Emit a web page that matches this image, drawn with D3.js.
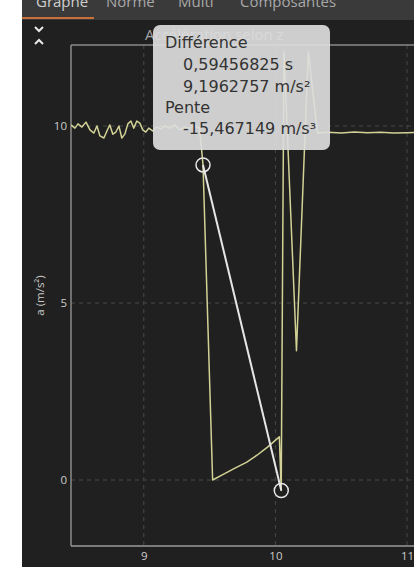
<!DOCTYPE html>
<html>
<head>
<meta charset="utf-8">
<script src="https://cdn.jsdelivr.net/npm/d3@7"></script>
<style>
  html, body { margin: 0; padding: 0; background: #ffffff; }
  svg { display: block; font-family: "Open Sans", "Noto Sans", sans-serif; }
</style>
</head>
<body>
<svg id="chart" width="414" height="567"></svg>
<script>
// Acceleration along z (m/s²) against time (s)
const time = [
  8.447, 8.477, 8.500, 8.530, 8.561, 8.591, 8.621, 8.644, 8.667, 8.697,
  8.720, 8.742, 8.765, 8.788, 8.811, 8.833, 8.856, 8.879, 8.902, 8.924,
  8.947, 8.970, 8.992, 9.015, 9.038, 9.068, 9.098, 9.129, 9.159, 9.197,
  9.235, 9.273, 9.311, 9.348, 9.386, 9.424, 9.450, 9.523, 9.600, 9.700,
  9.780, 9.860, 9.940, 10.030, 10.044, 10.065, 10.160, 10.250, 10.320, 10.400,
  10.500, 10.600, 10.700, 10.800, 10.900, 11.000, 11.060
];
const accel = [
  10.03, 9.94, 10.06, 9.97, 10.11, 9.89, 9.80, 10.00, 9.72, 9.66,
  9.86, 10.03, 9.77, 9.83, 10.00, 9.66, 9.77, 10.06, 10.14, 9.94,
  10.14, 10.08, 9.89, 9.83, 9.94, 9.86, 9.97, 9.92, 10.00, 9.94,
  10.03, 9.89, 9.97, 9.94, 10.00, 9.94, 8.90, 0.00, 0.15, 0.35,
  0.50, 0.70, 0.93, 1.22, -0.296, 12.10, 3.65, 12.10, 9.80, 9.82,
  9.80, 9.83, 9.81, 9.82, 9.80, 9.81, 9.82
];

// Two measurement cursors and the readout between them
const cursorTime = [9.45, 10.04456825];
const cursorAccel = [8.90, -0.2962757];
const readoutLines = ["Différence", "0,59456825 s", "9,1962757 m/s²", "Pente", "-15,467149 m/s³"];

const xTicks = [9, 10, 11];
const yTicks = [0, 5, 10];
const tabs = ["Graphe", "Norme", "Multi", "Composantes"];
const title = "Accélération selon z";
const yLabel = "a (m/s²)";

const svg = d3.select("#chart");

// app panel
svg.append("rect").attr("x", 22).attr("y", 0).attr("width", 392).attr("height", 567).attr("fill", "#202020");
svg.append("rect").attr("x", 22).attr("y", 0).attr("width", 392).attr("height", 20).attr("fill", "#3a3a3a");
svg.append("rect").attr("x", 22).attr("y", 17).attr("width", 72).attr("height", 2).attr("fill", "#c8703a");

const tabX = [36, 106, 178, 240];
svg.selectAll("text.tab").data(tabs).join("text")
  .attr("class", "tab")
  .attr("x", (d, i) => tabX[i]).attr("y", 7)
  .attr("font-size", 15).attr("fill", (d, i) => i === 0 ? "#cfcfcf" : "#a8a8a8")
  .text(d => d);

// collapse chevrons
svg.append("path").attr("d", "M35,27 L39,31 L43,27").attr("fill", "none").attr("stroke", "#e8e8e8").attr("stroke-width", 2);
svg.append("path").attr("d", "M35,44 L39,40 L43,44").attr("fill", "none").attr("stroke", "#e8e8e8").attr("stroke-width", 2);

svg.append("text").attr("x", 145).attr("y", 40)
  .attr("font-size", 15).attr("fill", "#a4a4a4").text(title);

// plot area
const pLeft = 71, pRight = 414, pTop = 45, pBottom = 546;
const x = d3.scaleLinear().domain([8.447, 11.053]).range([pLeft, pRight]);
const y = d3.scaleLinear().domain([-1.864, 12.288]).range([pBottom, pTop]);

const plot = svg.append("g");
plot.append("defs").append("clipPath").attr("id", "clip")
  .append("rect").attr("x", pLeft).attr("y", pTop).attr("width", pRight - pLeft).attr("height", pBottom - pTop);

// grid
plot.selectAll("line.gx").data(xTicks).join("line")
  .attr("x1", d => x(d)).attr("x2", d => x(d)).attr("y1", pTop).attr("y2", pBottom)
  .attr("stroke", "#484848").attr("stroke-dasharray", "4,4");
plot.selectAll("line.gy").data(yTicks).join("line")
  .attr("x1", pLeft).attr("x2", pRight).attr("y1", d => y(d)).attr("y2", d => y(d))
  .attr("stroke", "#484848").attr("stroke-dasharray", "4,4");

// frame
plot.append("line").attr("x1", pLeft).attr("x2", pRight).attr("y1", pTop).attr("y2", pTop).attr("stroke", "#8a8a8a").attr("stroke-width", 1.5);
plot.append("line").attr("x1", pLeft).attr("x2", pLeft).attr("y1", pTop).attr("y2", pBottom).attr("stroke", "#8a8a8a").attr("stroke-width", 1.5);
plot.append("line").attr("x1", pLeft).attr("x2", pRight).attr("y1", pBottom).attr("y2", pBottom).attr("stroke", "#9a9a9a").attr("stroke-width", 1.5);

// axes labels
const xAxis = d3.axisBottom(x).tickValues(xTicks).tickSize(0).tickPadding(6).tickFormat(d3.format("d"));
const gx = svg.append("g").attr("transform", `translate(0,${pBottom})`).call(xAxis);
gx.select(".domain").remove();
gx.selectAll("text").attr("font-size", 11.5).attr("fill", "#cccccc").attr("font-family", "Open Sans, sans-serif");

const yAxis = d3.axisLeft(y).tickValues(yTicks).tickSize(0).tickPadding(4).tickFormat(d3.format("d"));
const gy = svg.append("g").attr("transform", `translate(${pLeft},0)`).call(yAxis);
gy.select(".domain").remove();
gy.selectAll("text").attr("font-size", 11.5).attr("fill", "#cccccc").attr("font-family", "Open Sans, sans-serif");

svg.append("text").attr("transform", `translate(44,${(pTop + pBottom) / 2}) rotate(-90)`)
  .attr("text-anchor", "middle").attr("font-size", 11.5).attr("fill", "#c8c8c8").text(yLabel);

// signal
const line = d3.line().x((d, i) => x(time[i])).y(d => y(d));
plot.append("path").datum(accel).attr("clip-path", "url(#clip)")
  .attr("d", line).attr("fill", "none").attr("stroke", "#d2d296").attr("stroke-width", 1.5)
  .attr("stroke-linejoin", "round");

// slope between cursors
plot.append("line")
  .attr("x1", x(cursorTime[0])).attr("y1", y(cursorAccel[0]))
  .attr("x2", x(cursorTime[1])).attr("y2", y(cursorAccel[1]))
  .attr("stroke", "#e6e6e6").attr("stroke-width", 2);
plot.selectAll("circle.cursor").data(cursorTime).join("circle")
  .attr("cx", d => x(d)).attr("cy", (d, i) => y(cursorAccel[i])).attr("r", 7)
  .attr("fill", "none").attr("stroke", "#e6e6e6").attr("stroke-width", 1.5);

// readout box
svg.append("rect").attr("x", 153).attr("y", 25).attr("width", 177).attr("height", 125).attr("rx", 7)
  .attr("fill", "#dddddd").attr("fill-opacity", 0.92);
const lineX = [165, 183, 183, 165, 183];
const lineY = [48, 70, 92, 113, 134];
svg.selectAll("text.readout").data(readoutLines).join("text")
  .attr("class", "readout")
  .attr("x", (d, i) => lineX[i]).attr("y", (d, i) => lineY[i])
  .attr("font-family", "DejaVu Sans, sans-serif")
  .attr("font-size", 16).attr("fill", "#333333").text(d => d);
</script>
</body>
</html>
